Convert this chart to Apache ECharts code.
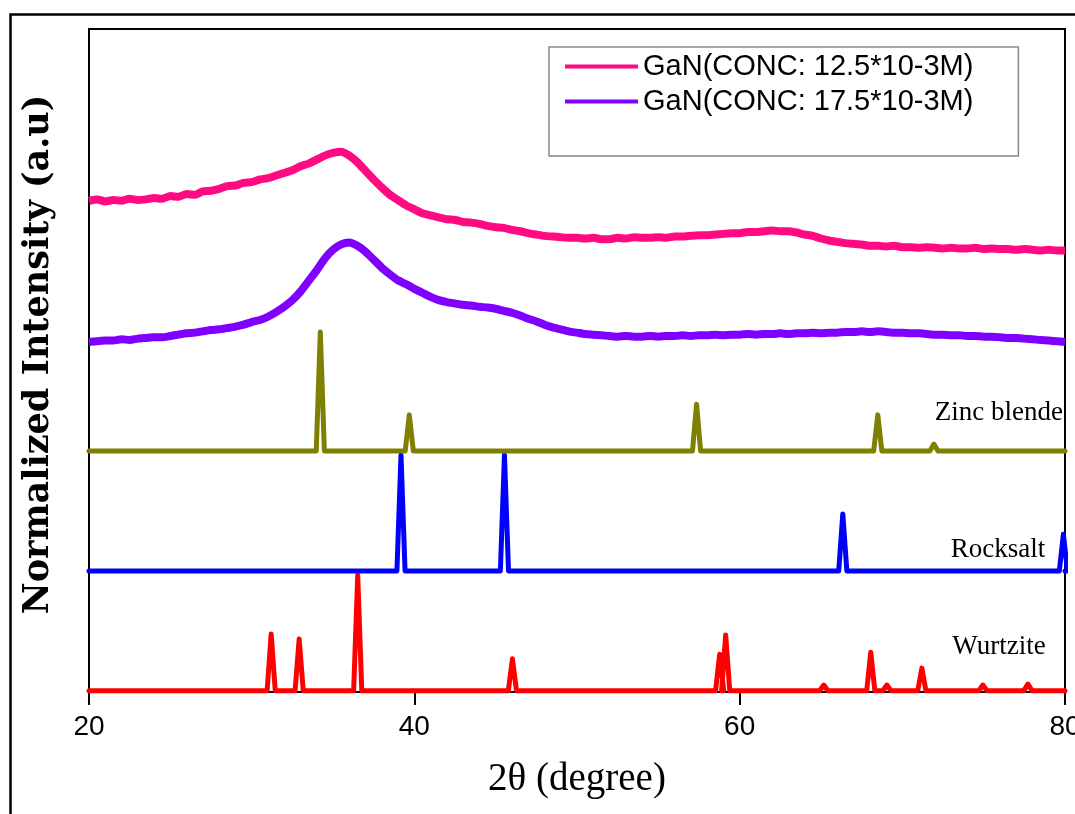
<!DOCTYPE html>
<html>
<head>
<meta charset="utf-8">
<script src="https://cdn.jsdelivr.net/npm/echarts/dist/echarts.min.js"></script>
<style>
html,body{margin:0;padding:0;background:#fff;}
#chart{width:1075px;height:814px;}
</style>
</head>
<body>
<div id="chart"></div>
<script>
// ---- Data (normalized intensity, arbitrary units, offset stacked) ----
const angleStart = 20, angleStep = 0.5; // 2θ sampling of the measured spectra
const pinkName = 'GaN(CONC: 12.5*10-3M)';
const purpleName = 'GaN(CONC: 17.5*10-3M)';
const pinkValues = [
  74.1, 74.3, 74.0, 74.2, 74.1, 74.4, 74.2, 74.3, 74.5, 74.4,
  74.8, 74.7, 75.1, 75.0, 75.5, 75.6, 75.9, 76.3, 76.4, 76.8,
  76.9, 77.3, 77.5, 77.9, 78.3, 78.7, 79.3, 79.7, 80.3, 80.9,
  81.3, 81.5, 80.9, 79.9, 78.6, 77.3, 76.1, 75.0, 74.2, 73.4,
  72.8, 72.2, 71.9, 71.6, 71.3, 71.2, 70.9, 70.8, 70.6, 70.3,
  70.1, 70.0, 69.7, 69.5, 69.2, 69.0, 68.8, 68.7, 68.6, 68.5,
  68.5, 68.4, 68.5, 68.3, 68.3, 68.5, 68.4, 68.6, 68.5, 68.5,
  68.6, 68.5, 68.7, 68.7, 68.8, 68.9, 68.9, 69.0, 69.1, 69.2,
  69.2, 69.4, 69.4, 69.5, 69.6, 69.5, 69.5, 69.3, 69.0, 68.8,
  68.4, 68.1, 67.9, 67.7, 67.6, 67.5, 67.3, 67.3, 67.2, 67.3,
  67.1, 67.1, 67.0, 67.1, 67.0, 66.9, 67.0, 66.9, 66.9, 67.0,
  66.8, 66.9, 66.8, 66.8, 66.7, 66.8, 66.7, 66.6, 66.7, 66.6,
  66.6
];
const purpleValues = [
  52.8, 52.9, 53.0, 53.0, 53.2, 53.1, 53.3, 53.4, 53.5, 53.5,
  53.7, 53.9, 54.1, 54.2, 54.4, 54.6, 54.7, 54.9, 55.1, 55.4,
  55.8, 56.1, 56.6, 57.3, 58.1, 59.1, 60.4, 62.0, 63.6, 65.4,
  66.7, 67.5, 67.8, 67.3, 66.4, 65.2, 64.0, 63.0, 62.1, 61.5,
  60.8, 60.2, 59.6, 59.1, 58.8, 58.6, 58.4, 58.3, 58.1, 58.0,
  57.8, 57.5, 57.2, 56.8, 56.3, 55.9, 55.4, 55.0, 54.7, 54.4,
  54.2, 54.0, 53.9, 53.8, 53.7, 53.6, 53.7, 53.6, 53.6, 53.7,
  53.6, 53.7, 53.7, 53.8, 53.7, 53.8, 53.8, 53.9, 53.8, 53.9,
  53.9, 54.0, 53.9, 54.0, 54.0, 54.1, 54.0, 54.1, 54.1, 54.2,
  54.1, 54.2, 54.2, 54.3, 54.3, 54.4, 54.3, 54.4, 54.3, 54.2,
  54.2, 54.1, 54.1, 54.0, 53.9, 53.9, 53.8, 53.8, 53.7, 53.7,
  53.6, 53.6, 53.5, 53.4, 53.4, 53.3, 53.2, 53.1, 53.0, 52.9,
  52.8
];

// Reference patterns: peak positions (2θ) and peak heights above baseline
const zincBlendeBase = 36.35;
const zincBlendePos = [34.22, 39.69, 57.35, 68.49, 71.94];
const zincBlendeHeight = [17.95, 5.45, 7.05, 5.45, 1.05];

const rocksaltBase = 18.25;
const rocksaltPos = [39.18, 45.54, 66.34, 79.9];
const rocksaltHeight = [17.5, 17.5, 8.6, 5.55];

const wurtziteBase = 0.2;
const wurtzitePos = [31.2, 32.92, 36.52, 46.03, 58.77, 59.14, 65.17, 68.06, 69.05, 71.2, 74.95, 77.72];
const wurtziteHeight = [8.55, 7.8, 17.4, 4.8, 5.5, 8.4, 0.85, 5.8, 0.85, 3.4, 0.85, 1.0];

const xTicks = [20, 40, 60, 80];

// ---- Build series data ----
function spectrum(values) {
  return values.map((v, i) => [angleStart + i * angleStep, v]);
}
const HW = 0.25; // half width of stick-pattern peaks (deg)
function sticks(base, pos, heights) {
  const pts = [[20, base]];
  pos.forEach((c, i) => {
    pts.push([c - HW, base], [c, base + heights[i]], [c + HW, base]);
  });
  pts.push([80, base]);
  return pts;
}

const chart = echarts.init(document.getElementById('chart'), null, {renderer: 'canvas'});

function patternLabel(text, coord) {
  return {
    silent: true,
    symbol: 'circle',
    symbolSize: 1,
    itemStyle: {color: 'rgba(0,0,0,0)'},
    label: {show: true, position: 'inside', formatter: text,
      fontFamily: 'Liberation Serif', fontSize: 27, color: '#000'},
    data: [{coord: coord}]
  };
}

const option = {
  animation: false,
  backgroundColor: '#fff',
  graphic: [{
    type: 'rect', silent: true, z: -10,
    shape: {x: 10.5, y: 14.5, width: 1100, height: 900},
    style: {fill: 'none', stroke: '#000', lineWidth: 2.5}
  }],
  grid: {left: 89, top: 29, right: 10, bottom: 122, show: true,
    containLabel: false, outerBoundsMode: 'none',
    borderColor: '#000', borderWidth: 2, backgroundColor: 'transparent'},
  legend: {
    data: [pinkName, purpleName],
    orient: 'vertical', left: 549, top: 47,
    padding: [5, 45, 40, 16], itemGap: 6,
    itemWidth: 73, itemHeight: 4, icon: 'rect',
    borderColor: '#888', borderWidth: 1.5, backgroundColor: '#fff',
    textStyle: {fontFamily: 'Liberation Sans', fontSize: 29, color: '#000'}
  },
  xAxis: {
    type: 'value', min: xTicks[0], max: xTicks[xTicks.length - 1], interval: 20,
    name: '2θ (degree)', nameLocation: 'middle', nameGap: 68,
    nameTextStyle: {fontFamily: 'Liberation Serif', fontSize: 39, color: '#000'},
    axisLine: {show: true, onZero: false, lineStyle: {color: '#000', width: 2}},
    axisTick: {show: true, inside: false, length: 13, lineStyle: {color: '#000', width: 2}},
    axisLabel: {fontFamily: 'Liberation Sans', fontSize: 28, color: '#000', margin: 21},
    splitLine: {show: false}
  },
  yAxis: {
    type: 'value', min: 0, max: 100,
    name: 'Normalized Intensity (a.u)', nameLocation: 'middle', nameGap: 33,
    nameTextStyle: {fontFamily: 'DejaVu Serif', fontWeight: 'bold', fontSize: 35, color: '#000',
      padding: [0, 0, 0, 12]},
    axisLine: {show: false}, axisTick: {show: false}, axisLabel: {show: false},
    splitLine: {show: false}
  },
  series: [
    {name: 'Wurtzite', type: 'line', data: sticks(wurtziteBase, wurtzitePos, wurtziteHeight),
      color: '#ff0000', showSymbol: false, symbol: 'none',
      lineStyle: {width: 5, join: 'round', cap: 'round'},
      markPoint: patternLabel('Wurtzite', [75.94, 6.8])},
    {name: 'Rocksalt', type: 'line', data: sticks(rocksaltBase, rocksaltPos, rocksaltHeight),
      color: '#0000ff', showSymbol: false, symbol: 'none',
      lineStyle: {width: 5, join: 'round', cap: 'round'},
      markPoint: patternLabel('Rocksalt', [75.88, 21.4])},
    {name: 'Zinc blende', type: 'line', data: sticks(zincBlendeBase, zincBlendePos, zincBlendeHeight),
      color: '#808000', showSymbol: false, symbol: 'none',
      lineStyle: {width: 5, join: 'round', cap: 'round'},
      markPoint: patternLabel('Zinc blende', [75.94, 42.1])},
    {name: purpleName, type: 'line', data: spectrum(purpleValues),
      color: '#8000ff', showSymbol: false, symbol: 'none', smooth: 0.2,
      lineStyle: {width: 8, join: 'round'}},
    {name: pinkName, type: 'line', data: spectrum(pinkValues),
      color: '#ff0a80', showSymbol: false, symbol: 'none', smooth: 0.2,
      lineStyle: {width: 8, join: 'round'}}
  ]
};
chart.setOption(option);
</script>
</body>
</html>
